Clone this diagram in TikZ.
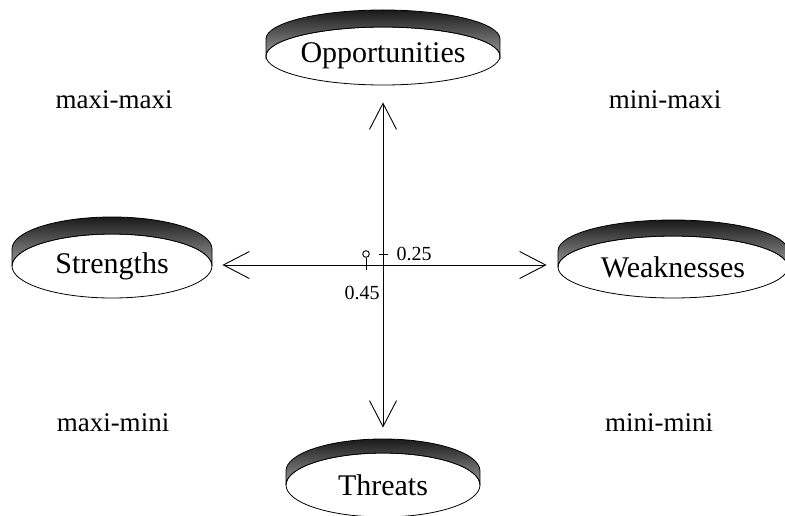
\documentclass[tikz,border=0pt]{standalone}
\usepackage{fontspec}
\setmainfont{Liberation Serif}
\usetikzlibrary{arrows.meta,shapes.geometric,calc}
\tikzset{
  disc/.style={ellipse, draw=black, line width=0.8pt, fill=white, inner sep=0pt,
    font=\fontsize{30}{32}\selectfont},
  rim/.style={top color=black!90, bottom color=black!40, draw=black, line width=0.8pt},
  quad/.style={font=\fontsize{27}{29}\selectfont, inner sep=0pt},
  num/.style={font=\fontsize{20}{22}\selectfont, inner sep=0pt},
  axis/.style={line width=0.9pt, {Straight Barb[length=26pt,width=27pt,line width=0.9pt]}-{Straight Barb[length=26pt,width=27pt,line width=0.9pt]}},
  tickline/.style={line width=0.9pt}
}
% name, cx, cy, rx, ry, shift, text
\newcommand\mydisc[7]{%
  \node[disc, minimum width=#4*2pt, minimum height=#5*2pt] (#1) at (#2,#3) {#7};
  \path[rim] (#2-#4,#3) -- ++(0,#6) arc[start angle=180,end angle=0,x radius=#4,y radius=#5]
    -- ++(0,-#6) arc[start angle=0,end angle=180,x radius=#4,y radius=#5] -- cycle;
}
\begin{document}
\begin{tikzpicture}[x=1pt,y=1pt]
\useasboundingbox (0,0) rectangle (785,515);
\mydisc{O}{383}{459}{117}{29}{17}{Opportunities}
\mydisc{S}{112}{249}{100}{32}{17}{Strengths}
\mydisc{W}{673}{248}{115}{31}{16}{Weaknesses}
\mydisc{T}{383}{30}{97}{32}{14}{Threats}
\coordinate (C) at (383,250);
\draw[axis] ([xshift=10pt]S.east |- C) -- ([xshift=-11pt]W.west |- C);
\draw[axis] ([yshift=-17pt]O.south) -- ([yshift=25pt]T.north);
\node[quad] (mm) at (114,415) {maxi-maxi};
\node[quad] (nm) at (665,415) {mini-maxi};
\node[quad] (mn) at (113,92) {maxi-mini};
\node[quad] (nn) at (659,92) {mini-mini};
\node[circle, draw=black, line width=0.9pt, minimum size=6.6pt, inner sep=0pt] (P) at (366,261) {};
\coordinate (Pb) at (366,245);
\draw[tickline] (P.south) -- (Pb);
\coordinate (t1) at (379,261);
\coordinate (t2) at (388,261);
\draw[tickline] (t1) -- (t2);
\node[num] (v25) at (414,261) {0.25};
\node[num] (v45) at (362,222) {0.45};
\end{tikzpicture}
\end{document}
